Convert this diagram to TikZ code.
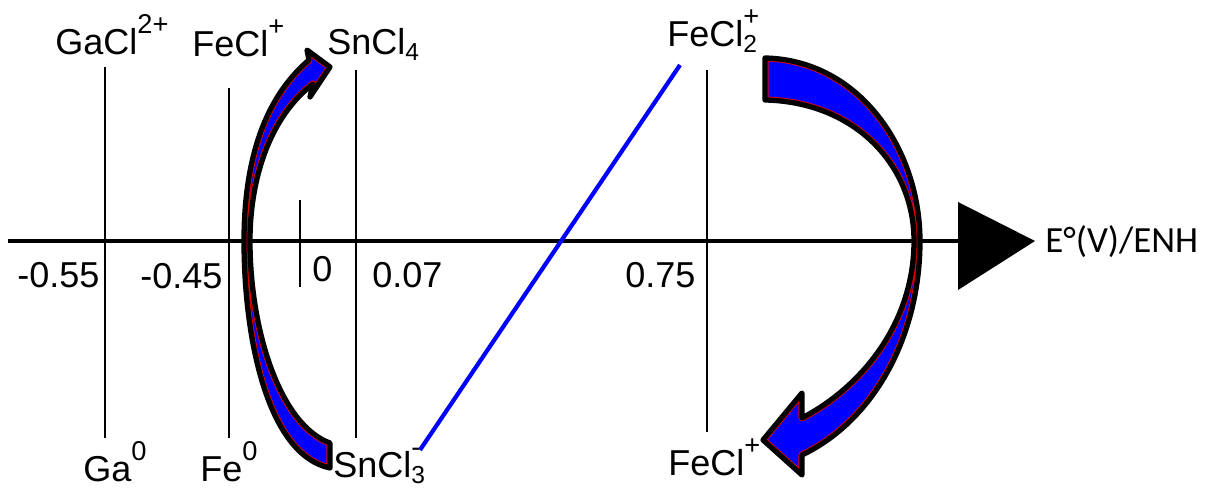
\documentclass[tikz,border=0pt]{standalone}
\usepackage{fontspec}
\setmainfont{Liberation Sans}
\newfontfamily\carl{Carlito}
\newcommand\mysup[1]{\raisebox{12.5pt}{\fontsize{15.5}{17}\selectfont #1}}
\newcommand\mysub[1]{\raisebox{-3.4pt}{\fontsize{14}{16}\selectfont #1}}
\newcommand\mysubsup[2]{\rlap{\mysup{#2}}\mysub{#1}}
\newcommand\myArrowR{(765,58) .. controls (860,60) and (920,150) .. (920,241)
 .. controls (920,335) and (875,420) .. (802,455)
 -- (802,475) -- (763,440) -- (802,393) -- (802,418)
 .. controls (865,385) and (914,320) .. (914,241)
 .. controls (914,165) and (855,102) .. (765,100) -- cycle}
\newcommand\myArrowL{(307,50) -- (330,67) -- (310,97) -- (313,84)
 .. controls (272,115) and (250,175) .. (250,241)
 .. controls (250,330) and (280,425) .. (330,443)
 -- (330,468)
 .. controls (268,455) and (244,340) .. (244,241)
 .. controls (244,165) and (262,100) .. (309,60) -- cycle}
\begin{document}
\begin{tikzpicture}[x=0.02cm,y=-0.02cm,
  lbl/.style={anchor=base west, inner sep=0pt, font=\fontsize{20.5}{24}\selectfont},
  unit/.style={anchor=west, inner sep=0pt, font=\carl\fontsize{21}{25}\selectfont},
  vline/.style={line width=1.1pt},
  axisline/.style={line width=2.3pt},
  arrowfill/.style={fill=blue},
  arrowred/.style={draw=red!90!black, line width=4pt, line join=round},
  arrowblack/.style={draw=black, line width=3pt, line join=round},
  blueline/.style={draw=blue, line width=2.4pt}]
\useasboundingbox (0,0) rectangle (1215,489);

% axis
\coordinate (a0) at (8,241);
\coordinate (tb) at (958,241);
\coordinate (t1) at (958,202);
\coordinate (t2) at (1035,241);
\coordinate (t3) at (958,290);
\draw[axisline] (a0) -- (tb);
\fill (t1) -- (t2) -- (t3) -- cycle;
\node[unit] (unit) at (1045,242) {E°(V)/ENH};

% vertical level lines
\coordinate (ga1) at (105,67);  \coordinate (ga2) at (105,438);
\coordinate (fe1) at (229,88);  \coordinate (fe2) at (229,438);
\coordinate (sn1) at (356,70);  \coordinate (sn2) at (356,438);
\coordinate (z1) at (300,200);  \coordinate (z2) at (300,287);
\coordinate (f21) at (707,70);  \coordinate (f22) at (707,432);
\draw[vline] (ga1) -- (ga2);
\draw[vline] (fe1) -- (fe2);
\draw[vline] (sn1) -- (sn2);
\draw[vline] (z1) -- (z2);
\draw[vline] (f21) -- (f22);

% top labels
\node[lbl] (gacl) at (55,55) {GaCl\mysup{2+}};
\node[lbl] (fecl) at (192,57) {FeCl\mysup{+}};
\node[lbl] (sncl4) at (327,55) {SnCl\mysub{4}};
\node[lbl] (fecl2) at (667,47) {FeCl\mysubsup{2}{+}};

% bottom labels
\node[lbl] (ga0) at (83,482) {Ga\mysup{0}};
\node[lbl] (fe0) at (200,482) {Fe\mysup{0}};
\node[lbl] (sncl3) at (333,478) {SnCl\mysubsup{3}{-}};
\node[lbl] (feclb) at (668,476) {FeCl\mysup{+}};

% axis values
\node[lbl] (v1) at (17,288) {-0.55};
\node[lbl] (v2) at (140,289) {-0.45};
\node[lbl] (v3) at (312,282) {0};
\node[lbl] (v4) at (372,288) {0.07};
\node[lbl] (v5) at (625,288) {0.75};

% blue line
\coordinate (b1) at (680,65);
\coordinate (b2) at (420,450);
\draw[blueline] (b1) -- (b2);

% curved block arrows
\path[arrowfill] \myArrowL;
\begin{scope}
  \clip \myArrowL;
  \path[arrowred] \myArrowL;
\end{scope}
\path[arrowblack] \myArrowL;
\path[arrowfill] \myArrowR;
\begin{scope}
  \clip \myArrowR;
  \path[arrowred] \myArrowR;
\end{scope}
\path[arrowblack] \myArrowR;
\end{tikzpicture}
\end{document}
